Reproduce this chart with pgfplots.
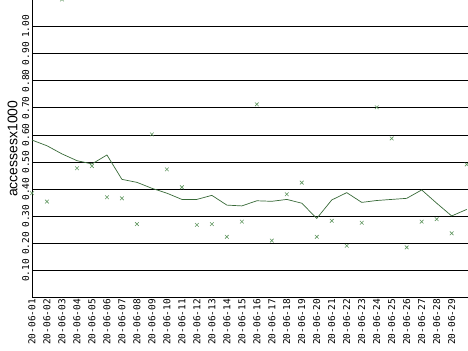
\documentclass[border=0pt]{standalone}
\usepackage{pgfplots}
\pgfplotsset{compat=1.18}
\usepackage{fontspec}
\setmainfont{Liberation Sans}
\setmonofont{DejaVu Sans Mono}
\definecolor{markgreen}{RGB}{95,150,95}
\definecolor{linegreen}{RGB}{55,105,55}
\begin{document}
\begin{tikzpicture}
\useasboundingbox (0,0) rectangle (468bp,351bp);
\clip (0,0) rectangle (468bp,351bp);
\begin{axis}[
  at={(32bp,53.5bp)}, anchor=south west,
  scale only axis, width=436bp, height=297.5bp,
  xmin=1, xmax=30.09, ymin=0, ymax=1.098,
  clip=false,
  axis x line=bottom, axis y line=left,
  axis line style={-, black, line width=0.8pt},
  major tick length=0pt,
  xtick={1,...,29},
  xticklabels={20-06-01,20-06-02,20-06-03,20-06-04,20-06-05,20-06-06,20-06-07,20-06-08,20-06-09,20-06-10,20-06-11,20-06-12,20-06-13,20-06-14,20-06-15,20-06-16,20-06-17,20-06-18,20-06-19,20-06-20,20-06-21,20-06-22,20-06-23,20-06-24,20-06-25,20-06-26,20-06-27,20-06-28,20-06-29},
  xticklabel style={rotate=90, anchor=east, font=\ttfamily\fontsize{9.5}{10}\selectfont, inner sep=1.5pt},
  ytick={0.1,0.2,0.3,0.4,0.5,0.6,0.7,0.8,0.9,1.0},
  yticklabels={0.10,0.20,0.30,0.40,0.50,0.60,0.70,0.80,0.90,1.00},
  yticklabel style={rotate=90, anchor=south, font=\ttfamily\fontsize{9.5}{10}\selectfont, inner sep=2.5pt},
  ymajorgrids, grid style={black, line width=0.8pt},
  ylabel={accessesx1000},
  ylabel style={font=\fontsize{14}{16}\selectfont, at={(ticklabel cs:0.5)}, anchor=south, inner sep=2pt},
  /pgf/number format/assume math mode=true,
]
\addplot[only marks, mark=x, mark size=2.6pt, color=markgreen, mark options={line width=0.6pt}] coordinates {
(1,0.385) (2,0.354) (3,1.10) (4,0.477) (5,0.485) (6,0.370) (7,0.366) (8,0.271) (9,0.602) (10,0.473)
(11,0.407) (12,0.268) (13,0.271) (14,0.224) (15,0.280) (16,0.713) (17,0.210) (18,0.381) (19,0.424) (20,0.224)
(21,0.283) (22,0.191) (23,0.276) (24,0.702) (25,0.587) (26,0.185) (27,0.280) (28,0.289) (29,0.237) (30,0.491)
};
\addplot[color=linegreen, line width=0.7pt, mark=none] coordinates {
(1,0.581) (2,0.560) (3,0.530) (4,0.505) (5,0.493) (6,0.526) (7,0.436) (8,0.425) (9,0.403) (10,0.385)
(11,0.362) (12,0.362) (13,0.377) (14,0.341) (15,0.338) (16,0.357) (17,0.355) (18,0.362) (19,0.348) (20,0.292)
(21,0.360) (22,0.387) (23,0.351) (24,0.358) (25,0.362) (26,0.366) (27,0.397) (28,0.348) (29,0.301) (30,0.325)
};
\end{axis}
\end{tikzpicture}
\end{document}
